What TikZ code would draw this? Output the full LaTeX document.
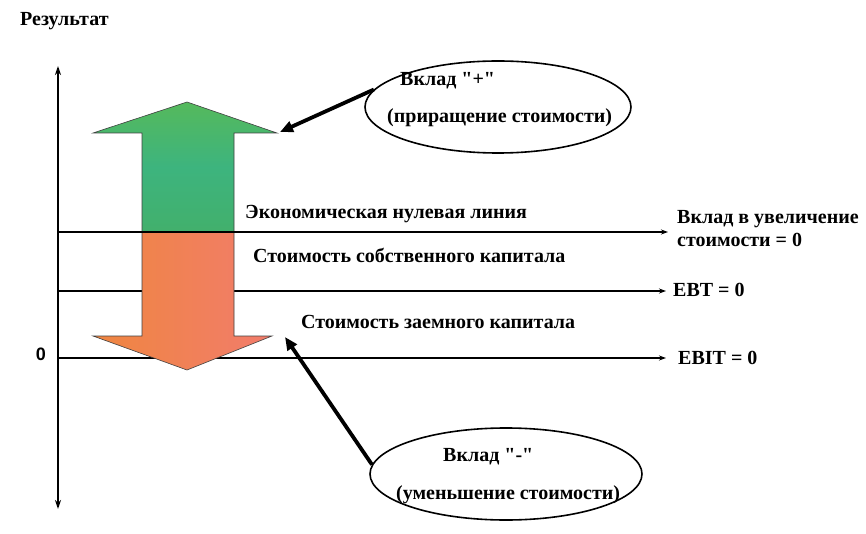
\documentclass[tikz,border=0pt]{standalone}
\usepackage{fontspec}
\newfontfamily\labelfont{Liberation Serif}
\newfontfamily\digitfont{Liberation Sans}
\usetikzlibrary{arrows.meta,shapes.geometric}

\definecolor{grtop}{HTML}{55B95C}
\definecolor{grmid}{HTML}{3DB47E}
\definecolor{grbot}{HTML}{42B06C}
\definecolor{orleft}{HTML}{EF8640}
\definecolor{orright}{HTML}{F27C6C}

\tikzset{
  lbl/.style={font=\labelfont\bfseries\fontsize{20}{22}\selectfont, inner sep=0pt, anchor=base west},
  level/.style={line width=2pt, -{Stealth[length=7pt,width=5pt]}},
  axisline/.style={line width=2pt, {Stealth[length=9pt,width=6pt]}-{Stealth[length=9pt,width=6pt]}},
  callout/.style={line width=3.8pt, -{Triangle[length=13pt,width=11pt]}},
  bubble/.style={ellipse, draw, line width=1.6pt, inner sep=0pt},
  bigarrow/.style={draw=black!75, line width=0.6pt}
}

\begin{document}
\begin{tikzpicture}[x=1pt,y=-1pt]
\useasboundingbox (0,0) rectangle (866,534);

% axis title
\node[lbl] (title) at (20,26) {Результат};

% vertical result axis
\coordinate (axtop) at (58,66);
\coordinate (axbot) at (58,509);
\draw[axisline] (axbot) -- (axtop);

% reference levels
\coordinate (ebtL) at (58,291);
\coordinate (ebtR) at (666,291);
\coordinate (ebitL) at (58,358);
\coordinate (ebitR) at (666,358);
\coordinate (ecoL) at (58,232);
\coordinate (ecoR) at (668,232);
\draw[level] (ebtL) -- (ebtR);
\draw[level] (ebitL) -- (ebitR);

% double arrow: value added (green) and value destroyed (orange)
\path[bigarrow, top color=grtop, bottom color=grbot, middle color=grmid]
  (142,232) -- (142,133) -- (93,133) -- (187,102) -- (277,133) -- (234,133) -- (234,232) -- cycle;
\path[bigarrow, left color=orleft, right color=orright]
  (142,232) -- (142,336) -- (93,336) -- (187,370) -- (272,336) -- (234,336) -- (234,232) -- cycle;

% economic zero line lies over the arrow
\draw[level] (ecoL) -- (ecoR);

% labels of the levels
\node[lbl] (eco) at (245,219) {Экономическая нулевая линия};
\node[lbl] (eq) at (253,262) {Стоимость собственного капитала};
\node[lbl] (debt) at (301,328) {Стоимость заемного капитала};
\node[lbl] (vz1) at (677,224) {Вклад в увеличение};
\node[lbl] (vz2) at (677,247) {стоимости = 0};
\node[lbl] (ebt) at (673,296) {EBT = 0};
\node[lbl] (ebit) at (678,364) {EBIT = 0};
\node[font=\digitfont\bfseries\fontsize{18}{20}\selectfont, inner sep=0pt] (zero) at (41,354) {0};

% callouts
\node[bubble, minimum width=266pt, minimum height=92pt] (plus) at (498,107) {};
\node[lbl] (plus1) at (400,86) {Вклад "+"};
\node[lbl] (plus2) at (387,123) {(приращение стоимости)};
\node[bubble, minimum width=272pt, minimum height=92pt] (minus) at (506,474) {};
\node[lbl] (minus1) at (443,461) {Вклад "-"};
\node[lbl] (minus2) at (396,499) {(уменьшение стоимости)};

\coordinate (gcorner) at (280,132);
\coordinate (ocorner) at (285,337);
\draw[callout] (plus.172) -- (gcorner);
\draw[callout] (minus.176) -- (ocorner);
\end{tikzpicture}
\end{document}
